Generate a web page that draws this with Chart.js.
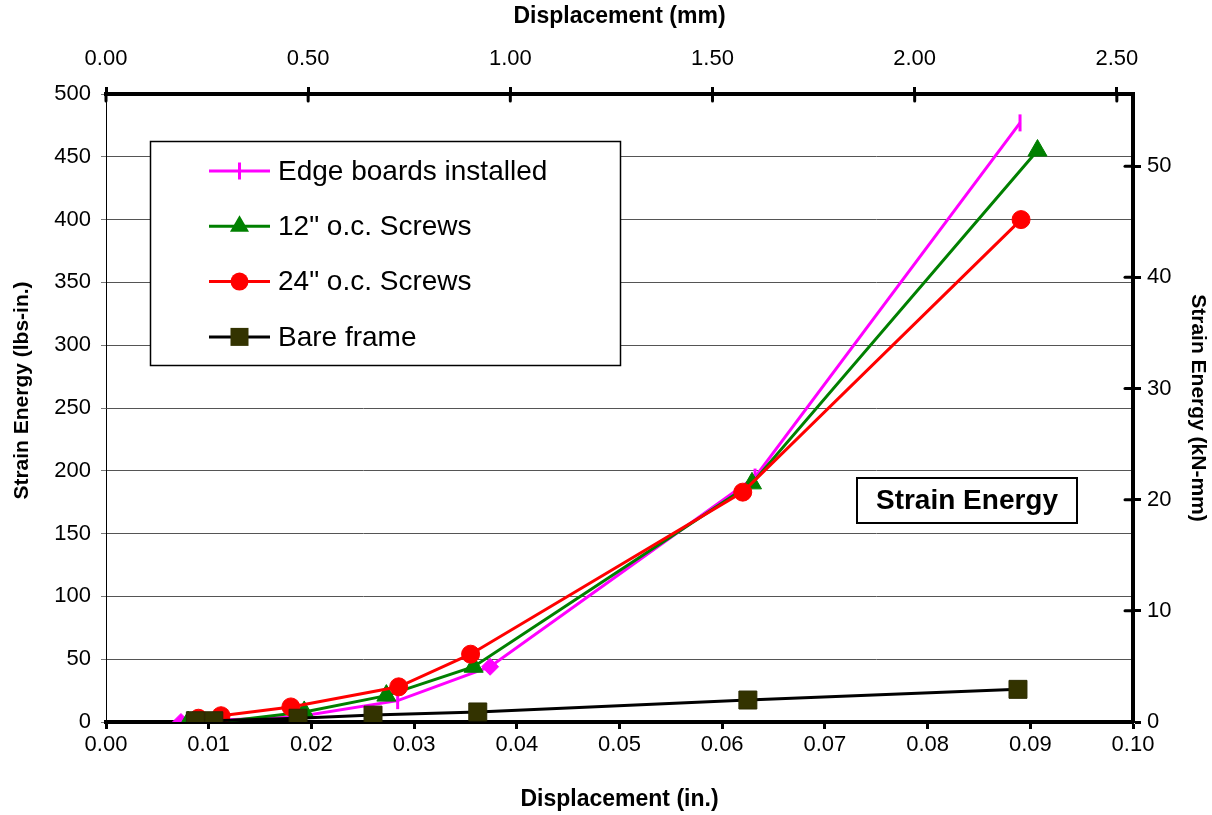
<!DOCTYPE html>
<html><head><meta charset="utf-8">
<script src="https://cdn.jsdelivr.net/npm/chart.js@4.4.1/dist/chart.umd.min.js"></script>
<style>html,body{margin:0;padding:0;background:#fff}#wrap{width:1212px;height:815px;position:relative}</style>
</head><body><div id="wrap"><canvas id="c" width="1212" height="815"></canvas></div>
<script>
// ---- data (displacement in inches, strain energy in lbs-in.) ----
const seriesNames = ['Edge boards installed', '12" o.c. Screws', '24" o.c. Screws', 'Bare frame'];
const edgeX = [0.0073, 0.0095, 0.0185, 0.0284, 0.0374, 0.0632, 0.0890];
const edgeY = [0, 1, 4, 17, 44, 195, 477];
const edgeMarker = ['rectRot', 'line', 'line', 'line', 'rectRot', 'line', 'line'];
const twelveX = [0.0080, 0.0115, 0.0193, 0.0273, 0.0358, 0.0629, 0.0907];
const twelveY = [0, 0.5, 8, 21, 44, 190, 455];
const twentyFourX = [0.0090, 0.0112, 0.0180, 0.0285, 0.0355, 0.0620, 0.0891];
const twentyFourY = [3, 5, 12, 28, 54, 183, 400];
const bareX = [0.0087, 0.0105, 0.0187, 0.0260, 0.0362, 0.0625, 0.0888];
const bareY = [1, 1, 3, 5.5, 8, 17.5, 26];
const annotationText = 'Strain Energy';
const IN_TO_MM = 25.4;
const LBSIN_TO_KNMM = 0.112985;

const FONT = '"Liberation Sans", Arial, sans-serif';
const pts = (xs, ys) => xs.map((x, i) => ({x: x, y: ys[i]}));

const whiteBg = {
  id: 'whiteBg',
  beforeDraw(chart) { const c = chart.ctx; c.save(); c.fillStyle = '#fff'; c.fillRect(0, 0, chart.width, chart.height); c.restore(); }
};

const innerTicks = {
  id: 'innerTicks',
  afterDraw(chart) {
    const c = chart.ctx, a = chart.chartArea;
    c.save(); c.strokeStyle = '#000'; c.lineWidth = 3; c.lineCap = 'round';
    chart.scales.x2.ticks.forEach(t => { const px = chart.scales.x2.getPixelForValue(t.value); c.beginPath(); c.moveTo(px, a.top); c.lineTo(px, a.top + 7); c.stroke(); });
    chart.scales.y2.ticks.forEach(t => { const py = chart.scales.y2.getPixelForValue(t.value); c.beginPath(); c.moveTo(a.right, py); c.lineTo(a.right - 8, py); c.stroke(); });
    c.restore();
  }
};

function marker(c, kind, x, y, color) {
  c.save(); c.fillStyle = color; c.strokeStyle = color; c.lineWidth = 3;
  if (kind === 'dash') { c.beginPath(); c.moveTo(x, y - 8.5); c.lineTo(x, y + 8.5); c.stroke(); }
  else if (kind === 'tri') { const r = 11; c.beginPath(); c.moveTo(x, y - r); c.lineTo(x + r * 0.866, y + r * 0.5); c.lineTo(x - r * 0.866, y + r * 0.5); c.closePath(); c.fill(); }
  else if (kind === 'circ') { c.beginPath(); c.arc(x, y, 9, 0, Math.PI * 2); c.fill(); }
  else if (kind === 'sq') { c.fillRect(x - 9, y - 9, 18, 18); }
  c.restore();
}

const legendBox = {
  id: 'legendBox',
  afterDraw(chart) {
    const c = chart.ctx;
    const bx = 150, by = 141, bw = 470, bh = 224;
    c.save();
    c.fillStyle = '#fff'; c.fillRect(bx, by, bw, bh);
    c.strokeStyle = '#000'; c.lineWidth = 1.5; c.strokeRect(bx + 0.5, by + 0.5, bw, bh);
    const kinds = ['dash', 'tri', 'circ', 'sq'];
    const lineCols = ['#FF00FF', '#008000', '#FF0000', '#000000'];
    const mCols = ['#FF00FF', '#008000', '#FF0000', '#333300'];
    chart.data.datasets.forEach((ds, i) => {
      const yy = 171 + i * 55.3;
      c.strokeStyle = lineCols[i]; c.lineWidth = 3;
      c.beginPath(); c.moveTo(209, yy); c.lineTo(270, yy); c.stroke();
      marker(c, kinds[i], 239.5, yy, mCols[i]);
      c.fillStyle = '#000'; c.font = '28px ' + FONT; c.textBaseline = 'middle'; c.textAlign = 'left';
      c.fillText(ds.label, 278, yy + 1);
    });
    // annotation box
    const ax = 857, ay = 478, aw = 220, ah = 45;
    c.fillStyle = '#fff'; c.fillRect(ax, ay, aw, ah);
    c.strokeStyle = '#000'; c.lineWidth = 2; c.strokeRect(ax, ay, aw, ah);
    c.fillStyle = '#000'; c.font = 'bold 28px ' + FONT; c.textAlign = 'center'; c.textBaseline = 'middle';
    c.fillText(annotationText, ax + aw / 2, ay + ah / 2 + 1);
    c.restore();
  }
};

const tickFont = {family: FONT, size: 22};
const titleFontH = {family: FONT, size: 23, weight: 'bold'};
const titleFontV = {family: FONT, size: 21, weight: 'bold'};

new Chart(document.getElementById('c'), {
  type: 'scatter',
  data: {
    datasets: [
      {label: seriesNames[0], data: pts(edgeX, edgeY), showLine: true, borderColor: '#FF00FF', backgroundColor: '#FF00FF', borderWidth: 3,
       pointStyle: edgeMarker, pointRotation: edgeMarker.map(m => m === 'line' ? 90 : 0), pointRadius: 8.5, pointBorderWidth: edgeMarker.map(m => m === 'line' ? 3 : 1), order: 3},
      {label: seriesNames[1], data: pts(twelveX, twelveY), showLine: true, borderColor: '#008000', backgroundColor: '#008000', borderWidth: 3,
       pointStyle: 'triangle', pointRadius: 11, pointBorderWidth: 1, order: 2},
      {label: seriesNames[2], data: pts(twentyFourX, twentyFourY), showLine: true, borderColor: '#FF0000', backgroundColor: '#FF0000', borderWidth: 3,
       pointStyle: 'circle', pointRadius: 9, pointBorderWidth: 1, order: 1},
      {label: seriesNames[3], data: pts(bareX, bareY), showLine: true, borderColor: '#000000', backgroundColor: '#333300', pointBorderColor: '#2a2a00', borderWidth: 3,
       pointStyle: 'rect', pointRadius: 12.7, pointBorderWidth: 1, order: 0}
    ]
  },
  options: {
    responsive: false, animation: false, devicePixelRatio: 1,
    layout: {padding: 0},
    plugins: {legend: {display: false}, tooltip: {enabled: false}},
    elements: {line: {tension: 0}},
    scales: {
      x: {type: 'linear', position: 'bottom', min: 0, max: 0.1,
          ticks: {stepSize: 0.01, font: tickFont, color: '#000', padding: 3, maxRotation: 0, callback: v => v.toFixed(2)},
          grid: {drawOnChartArea: false, drawTicks: true, tickLength: 7, tickWidth: 3, tickColor: '#000'},
          border: {display: true, width: 4, color: '#000'},
          title: {display: true, text: 'Displacement (in.)', font: titleFontH, color: '#000', padding: {top: 0, bottom: 2}},
          afterFit: s => { s.height = 93; }},
      x2: {type: 'linear', position: 'top', min: 0, max: 0.1 * IN_TO_MM,
          ticks: {stepSize: 0.5, includeBounds: false, font: tickFont, color: '#000', padding: 15, maxRotation: 0, callback: v => v.toFixed(2)},
          grid: {drawOnChartArea: false, drawTicks: true, tickLength: 7, tickWidth: 3, tickColor: '#000'},
          border: {display: true, width: 4, color: '#000'},
          title: {display: true, text: 'Displacement (mm)', font: titleFontH, color: '#000', padding: {top: 3, bottom: 0}},
          afterFit: s => { s.height = 94; }},
      y: {type: 'linear', position: 'left', min: 0, max: 500,
          ticks: {stepSize: 50, font: tickFont, color: '#000', padding: 10},
          grid: {drawOnChartArea: true, color: '#555', lineWidth: 1, drawTicks: true, tickLength: 5, tickColor: '#777', tickWidth: 1},
          border: {display: true, width: 1, color: '#000'},
          title: {display: true, text: '      Strain Energy (lbs-in.)', font: titleFontV, color: '#000', padding: {top: 10, bottom: 0}},
          afterFit: s => { s.width = 106; }},
      y2: {type: 'linear', position: 'right', min: 0, max: 500 * LBSIN_TO_KNMM,
          ticks: {stepSize: 10, includeBounds: false, font: tickFont, color: '#000', padding: 6},
          grid: {drawOnChartArea: false, drawTicks: true, tickLength: 8, tickWidth: 3, tickColor: '#000'},
          border: {display: true, width: 4, color: '#000'},
          title: {display: true, text: 'Strain Energy (kN-mm)', font: titleFontV, color: '#000', padding: {top: 2, bottom: 0}},
          afterFit: s => { s.width = 79; }}
    }
  },
  plugins: [whiteBg, innerTicks, legendBox]
});
</script>
</body></html>
